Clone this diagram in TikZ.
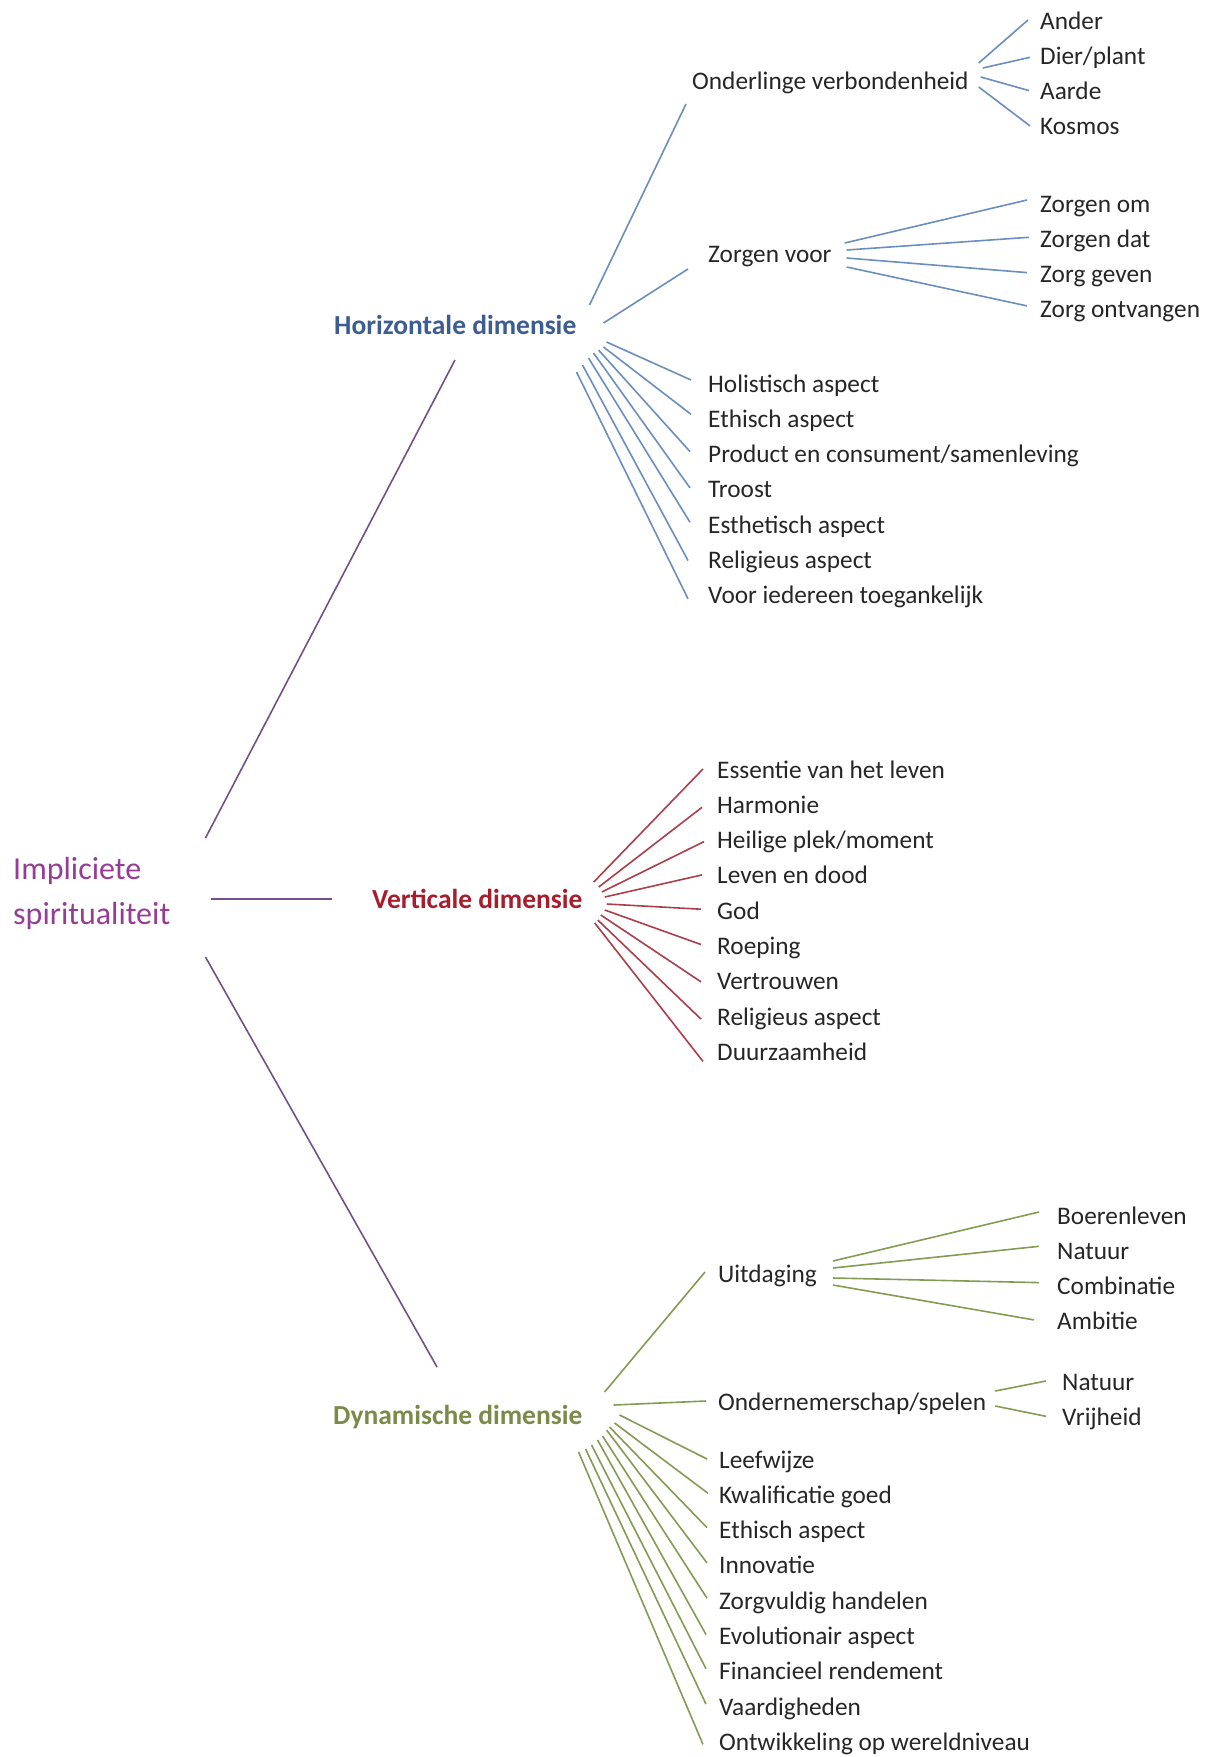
\documentclass[tikz,border=0pt]{standalone}
\usepackage{fontspec}
\setmainfont{Carlito}
\usepackage{tikz}
\usetikzlibrary{positioning}
\definecolor{hblue}{HTML}{3C5C92}
\definecolor{hblueline}{HTML}{6A8EC0}
\definecolor{vred}{HTML}{A81C2C}
\definecolor{vredline}{HTML}{AC3E4A}
\definecolor{dgreen}{HTML}{7A8A48}
\definecolor{dgreenline}{HTML}{829C52}
\definecolor{ipurple}{HTML}{963C96}
\definecolor{ipurpleline}{HTML}{74508A}
\definecolor{leafgray}{HTML}{262626}
\tikzset{
	leaf/.style={anchor=west, inner sep=0pt, text height=22pt, text depth=4pt, text=leafgray, font=\fontsize{25.3}{30}\selectfont},
	dim/.style={anchor=west, inner sep=0pt, text height=23pt, text depth=4pt, font=\bfseries\fontsize{27.5}{32}\selectfont},
	root/.style={anchor=west, inner sep=0pt, align=left, text=ipurple, font=\fontsize{32}{45}\selectfont},
	pline/.style={draw=ipurpleline, line width=1.6pt},
	hline/.style={draw=hblueline, line width=1.6pt},
	vline/.style={draw=vredline, line width=1.6pt},
	gline/.style={draw=dgreenline, line width=1.6pt},
}
\begin{document}
\begin{tikzpicture}[x=1pt, y=-1pt, node distance=35.3pt]
    \useasboundingbox (0,0) rectangle (1218,1757);

    \node[root] (imp) at (13,893) {Impliciete\\spiritualiteit};
    \node[dim, text=hblue] (hor) at (334,325) {Horizontale dimensie};
    \node[dim, text=vred] (ver) at (372,899) {Verticale dimensie};
    \node[dim, text=dgreen] (dyn) at (333,1415) {Dynamische dimensie};

    \draw[pline] ([shift={(35,-55)}]imp.east) -- ([shift={(121,35)}]hor.west);
    \draw[pline] ([shift={(41,6)}]imp.east) -- ([shift={(-40,0)}]ver.west);
    \draw[pline] ([shift={(35,64)}]imp.east) -- ([shift={(104,-48)}]dyn.west);

    % horizontale dimensie
    \node[leaf] (ond) at (692,80) {Onderlinge verbondenheid};
    \node[leaf] (zv) at (708,253) {Zorgen voor};
    \draw[hline] ([shift={(13,-20)}]hor.east) -- ([shift={(-6,24)}]ond.west);
    \draw[hline] ([shift={(27,-2)}]hor.east) -- ([shift={(-20,16)}]zv.west);

    \node[leaf] (ander) at (1040,20) {Ander};
    \node[leaf, below=of ander.west, anchor=west] (dier) {Dier/plant};
    \node[leaf, below=of dier.west, anchor=west] (aarde) {Aarde};
    \node[leaf, below=of aarde.west, anchor=west] (kosmos) {Kosmos};
    \draw[hline] ([shift={(10,-17)}]ond.east) -- ([shift={(-12,0)}]ander.west);
    \draw[hline] ([shift={(14,-12)}]ond.east) -- ([shift={(-10,2)}]dier.west);
    \draw[hline] ([shift={(12,-3)}]ond.east) -- ([shift={(-11,0)}]aarde.west);
    \draw[hline] ([shift={(10,7)}]ond.east) -- ([shift={(-10,0)}]kosmos.west);

    \node[leaf] (zom) at (1040,203) {Zorgen om};
    \node[leaf, below=of zom.west, anchor=west] (zdat) {Zorgen dat};
    \node[leaf, below=of zdat.west, anchor=west] (zgev) {Zorg geven};
    \node[leaf, below=of zgev.west, anchor=west] (zontv) {Zorg ontvangen};
    \draw[hline] ([shift={(13,-10)}]zv.east) -- ([shift={(-13,-3)}]zom.west);
    \draw[hline] ([shift={(15,-3)}]zv.east) -- ([shift={(-11,-1)}]zdat.west);
    \draw[hline] ([shift={(15,5)}]zv.east) -- ([shift={(-13,-1)}]zgev.west);
    \draw[hline] ([shift={(15,14)}]zv.east) -- ([shift={(-13,-3)}]zontv.west);

    \node[leaf] (hol) at (708,383) {Holistisch aspect};
    \node[leaf, below=of hol.west, anchor=west] (ethh) {Ethisch aspect};
    \node[leaf, below=of ethh.west, anchor=west] (prod) {Product en consument/samenleving};
    \node[leaf, below=of prod.west, anchor=west] (troost) {Troost};
    \node[leaf, below=of troost.west, anchor=west] (esth) {Esthetisch aspect};
    \node[leaf, below=of esth.west, anchor=west] (relh) {Religieus aspect};
    \node[leaf, below=of relh.west, anchor=west] (voor) {Voor iedereen toegankelijk};
    \draw[hline] ([shift={(30,17)}]hor.east) -- ([shift={(-17,-3)}]hol.west);
    \draw[hline] ([shift={(27,22)}]hor.east) -- ([shift={(-17,-4)}]ethh.west);
    \draw[hline] ([shift={(22,25)}]hor.east) -- ([shift={(-18,-2)}]prod.west);
    \draw[hline] ([shift={(17,28)}]hor.east) -- ([shift={(-18,-1)}]troost.west);
    \draw[hline] ([shift={(12,33)}]hor.east) -- ([shift={(-18,-2)}]esth.west);
    \draw[hline] ([shift={(6,40)}]hor.east) -- ([shift={(-20,1)}]relh.west);
    \draw[hline] ([shift={(0,47)}]hor.east) -- ([shift={(-20,4)}]voor.west);

    % verticale dimensie
    \node[leaf] (ess) at (717,769) {Essentie van het leven};
    \node[leaf, below=of ess.west, anchor=west] (harm) {Harmonie};
    \node[leaf, below=of harm.west, anchor=west] (heil) {Heilige plek/moment};
    \node[leaf, below=of heil.west, anchor=west] (leven) {Leven en dood};
    \node[leaf, below=of leven.west, anchor=west] (god) {God};
    \node[leaf, below=of god.west, anchor=west] (roep) {Roeping};
    \node[leaf, below=of roep.west, anchor=west] (vertr) {Vertrouwen};
    \node[leaf, below=of vertr.west, anchor=west] (relv) {Religieus aspect};
    \node[leaf, below=of relv.west, anchor=west] (duur) {Duurzaamheid};
    \draw[vline] ([shift={(11,-17)}]ver.east) -- ([shift={(-14,0)}]ess.west);
    \draw[vline] ([shift={(16,-12)}]ver.east) -- ([shift={(-15,3)}]harm.west);
    \draw[vline] ([shift={(19,-7)}]ver.east) -- ([shift={(-13,2)}]heil.west);
    \draw[vline] ([shift={(22,-2)}]ver.east) -- ([shift={(-15,0)}]leven.west);
    \draw[vline] ([shift={(24,5)}]ver.east) -- ([shift={(-16,-1)}]god.west);
    \draw[vline] ([shift={(22,11)}]ver.east) -- ([shift={(-16,-1)}]roep.west);
    \draw[vline] ([shift={(18,16)}]ver.east) -- ([shift={(-16,1)}]vertr.west);
    \draw[vline] ([shift={(15,21)}]ver.east) -- ([shift={(-16,3)}]relv.west);
    \draw[vline] ([shift={(12,24)}]ver.east) -- ([shift={(-14,10)}]duur.west);

    % dynamische dimensie
    \node[leaf] (uit) at (718,1273) {Uitdaging};
    \node[leaf] (ondn) at (718,1401) {Ondernemerschap/spelen};
    \draw[gline] ([shift={(22,-23)}]dyn.east) -- ([shift={(-13,-1)}]uit.west);
    \draw[gline] ([shift={(31,-10)}]dyn.east) -- ([shift={(-12,0)}]ondn.west);

    \node[leaf] (boer) at (1057,1215) {Boerenleven};
    \node[leaf, below=of boer.west, anchor=west] (natu) {Natuur};
    \node[leaf, below=of natu.west, anchor=west] (comb) {Combinatie};
    \node[leaf, below=of comb.west, anchor=west] (amb) {Ambitie};
    \draw[gline] ([shift={(16,-12)}]uit.east) -- ([shift={(-18,-3)}]boer.west);
    \draw[gline] ([shift={(16,-5)}]uit.east) -- ([shift={(-18,-4)}]natu.west);
    \draw[gline] ([shift={(16,5)}]uit.east) -- ([shift={(-18,-3)}]comb.west);
    \draw[gline] ([shift={(16,12)}]uit.east) -- ([shift={(-23,-1)}]amb.west);

    \node[leaf] (natn) at (1062,1381) {Natuur};
    \node[leaf, below=of natn.west, anchor=west] (vrij) {Vrijheid};
    \draw[gline] ([shift={(9,-10)}]ondn.east) -- ([shift={(-16,0)}]natn.west);
    \draw[gline] ([shift={(9,5)}]ondn.east) -- ([shift={(-16,0)}]vrij.west);

    \node[leaf] (leef) at (719,1459) {Leefwijze};
    \node[leaf, below=of leef.west, anchor=west] (kwal) {Kwalificatie goed};
    \node[leaf, below=of kwal.west, anchor=west] (ethg) {Ethisch aspect};
    \node[leaf, below=of ethg.west, anchor=west] (innov) {Innovatie};
    \node[leaf, below=of innov.west, anchor=west] (zorgv) {Zorgvuldig handelen};
    \node[leaf, below=of zorgv.west, anchor=west] (evol) {Evolutionair aspect};
    \node[leaf, below=of evol.west, anchor=west] (fin) {Financieel rendement};
    \node[leaf, below=of fin.west, anchor=west] (vaard) {Vaardigheden};
    \node[leaf, below=of vaard.west, anchor=west] (ontw) {Ontwikkeling op wereldniveau};
    \draw[gline] ([shift={(37,0)}]dyn.east) -- ([shift={(-12,0)}]leef.west);
    \draw[gline] ([shift={(32,8)}]dyn.east) -- ([shift={(-11,-1)}]kwal.west);
    \draw[gline] ([shift={(27,12)}]dyn.east) -- ([shift={(-12,-2)}]ethg.west);
    \draw[gline] ([shift={(24,15)}]dyn.east) -- ([shift={(-12,-2)}]innov.west);
    \draw[gline] ([shift={(20,21)}]dyn.east) -- ([shift={(-12,-2)}]zorgv.west);
    \draw[gline] ([shift={(15,25)}]dyn.east) -- ([shift={(-13,-1)}]evol.west);
    \draw[gline] ([shift={(9,30)}]dyn.east) -- ([shift={(-13,-2)}]fin.west);
    \draw[gline] ([shift={(3,34)}]dyn.east) -- ([shift={(-13,-2)}]vaard.west);
    \draw[gline] ([shift={(-4,37)}]dyn.east) -- ([shift={(-16,3)}]ontw.west);
\end{tikzpicture}
\end{document}
